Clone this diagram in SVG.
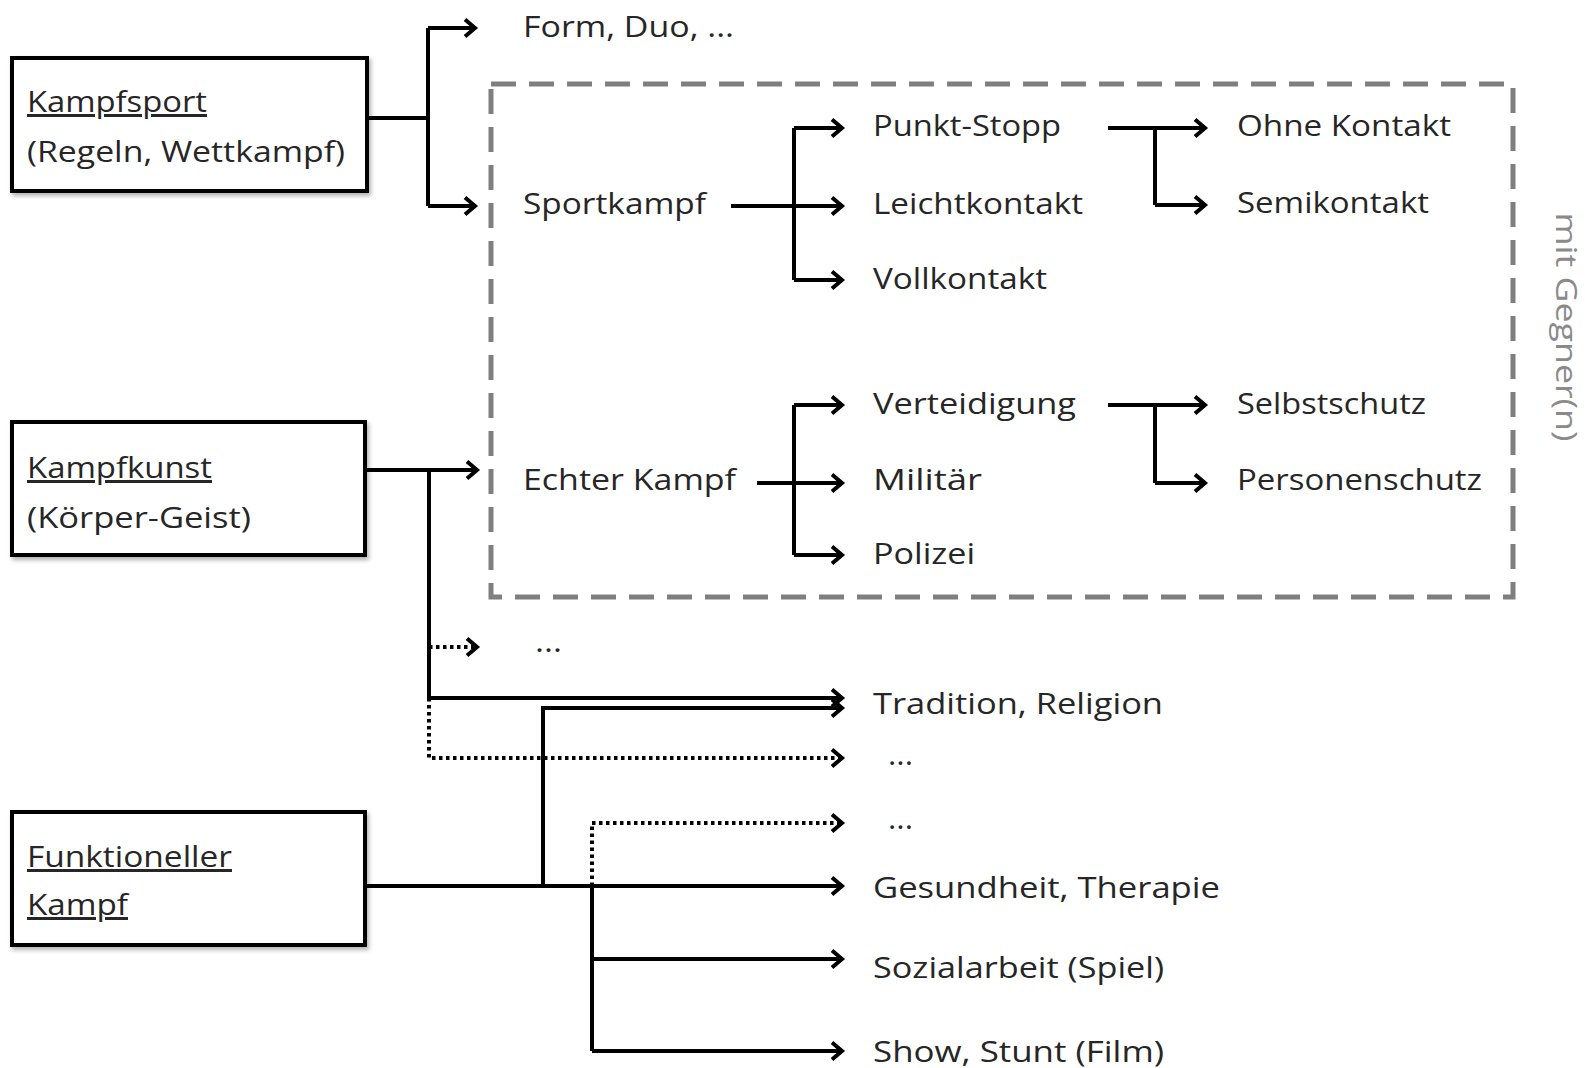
<svg xmlns="http://www.w3.org/2000/svg" width="1587" height="1068" viewBox="0 0 1587 1068">
<style>
.box{fill:#fff;stroke:#000;stroke-width:4;filter:url(#sh)}
.t{font-family:"Open Sans","Noto Sans","Liberation Sans",sans-serif;font-size:30px;fill:#262626}
.u{text-decoration:underline}
.c{fill:none;stroke:#000;stroke-width:4}
.a{marker-end:url(#arr)}
.d{stroke-dasharray:3.5 3.5}
.g{fill:none;stroke:#7f7f7f;stroke-width:5;stroke-dasharray:25 13}
</style>
<defs>
<filter id="sh" x="-5%" y="-5%" width="115%" height="120%">
<feDropShadow dx="2" dy="3" stdDeviation="2" flood-color="#000" flood-opacity="0.3"/>
</filter>
<marker id="arr" markerUnits="userSpaceOnUse" markerWidth="18" markerHeight="24" viewBox="0 0 18 24" refX="15" refY="12" orient="auto" overflow="visible">
<path d="M4,3.5 L14,12 L4,20.5" fill="none" stroke="#000" stroke-width="4"/>
</marker>
</defs>
<rect width="1587" height="1068" fill="#fff"/>

<rect id="frame" class="g" x="491" y="84" width="1022" height="513"/>
<text id="mitgegner" class="t" x="327" y="-1556" transform="rotate(90)" text-anchor="middle" style="fill:#8a8a8a" textLength="229" lengthAdjust="spacingAndGlyphs">mit Gegner(n)</text>

<g id="kampfsport">
<rect class="box" x="12" y="58" width="355" height="133"/>
<text class="t u" x="27" y="112" textLength="180" lengthAdjust="spacingAndGlyphs">Kampfsport</text>
<text class="t" x="27" y="162" textLength="318" lengthAdjust="spacingAndGlyphs">(Regeln, Wettkampf)</text>
</g>
<g id="kampfkunst">
<rect class="box" x="12" y="422" width="353" height="133"/>
<text class="t u" x="27" y="478" textLength="185" lengthAdjust="spacingAndGlyphs">Kampfkunst</text>
<text class="t" x="27" y="528" textLength="224" lengthAdjust="spacingAndGlyphs">(Körper-Geist)</text>
</g>
<g id="funktioneller">
<rect class="box" x="12" y="812" width="353" height="133"/>
<text class="t u" x="27" y="867" textLength="205" lengthAdjust="spacingAndGlyphs">Funktioneller</text>
<text class="t u" x="27" y="915" textLength="101" lengthAdjust="spacingAndGlyphs">Kampf</text>
</g>

<g id="form"><text class="t" x="523" y="37" textLength="211" lengthAdjust="spacingAndGlyphs">Form, Duo, ...</text></g>
<g id="sportkampf"><text class="t" x="523" y="214" textLength="183" lengthAdjust="spacingAndGlyphs">Sportkampf</text></g>
<g id="punktstopp"><text class="t" x="873" y="136" textLength="188" lengthAdjust="spacingAndGlyphs">Punkt-Stopp</text></g>
<g id="leichtkontakt"><text class="t" x="873" y="214" textLength="210" lengthAdjust="spacingAndGlyphs">Leichtkontakt</text></g>
<g id="vollkontakt"><text class="t" x="873" y="289" textLength="174" lengthAdjust="spacingAndGlyphs">Vollkontakt</text></g>
<g id="ohnekontakt"><text class="t" x="1237" y="136" textLength="214" lengthAdjust="spacingAndGlyphs">Ohne Kontakt</text></g>
<g id="semikontakt"><text class="t" x="1237" y="213" textLength="192" lengthAdjust="spacingAndGlyphs">Semikontakt</text></g>
<g id="echterkampf"><text class="t" x="523" y="490" textLength="213" lengthAdjust="spacingAndGlyphs">Echter Kampf</text></g>
<g id="verteidigung"><text class="t" x="873" y="414" textLength="203" lengthAdjust="spacingAndGlyphs">Verteidigung</text></g>
<g id="militaer"><text class="t" x="873" y="490" textLength="109" lengthAdjust="spacingAndGlyphs">Militär</text></g>
<g id="polizei"><text class="t" x="873" y="564" textLength="102" lengthAdjust="spacingAndGlyphs">Polizei</text></g>
<g id="selbstschutz"><text class="t" x="1237" y="414" textLength="189" lengthAdjust="spacingAndGlyphs">Selbstschutz</text></g>
<g id="personenschutz"><text class="t" x="1237" y="490" textLength="245" lengthAdjust="spacingAndGlyphs">Personenschutz</text></g>
<g id="etc1"><text class="t" x="535" y="652" textLength="27" lengthAdjust="spacingAndGlyphs">...</text></g>
<g id="tradition"><text class="t" x="873" y="714" textLength="290" lengthAdjust="spacingAndGlyphs">Tradition, Religion</text></g>
<g id="etc2"><text class="t" x="888" y="765" textLength="25" lengthAdjust="spacingAndGlyphs">...</text></g>
<g id="etc3"><text class="t" x="888" y="829" textLength="25" lengthAdjust="spacingAndGlyphs">...</text></g>
<g id="gesundheit"><text class="t" x="873" y="898" textLength="347" lengthAdjust="spacingAndGlyphs">Gesundheit, Therapie</text></g>
<g id="sozialarbeit"><text class="t" x="873" y="978" textLength="291" lengthAdjust="spacingAndGlyphs">Sozialarbeit (Spiel)</text></g>
<g id="show"><text class="t" x="873" y="1062" textLength="291" lengthAdjust="spacingAndGlyphs">Show, Stunt (Film)</text></g>

<g id="connectors">
<path class="c" d="M367,118 H428 M428,28 V206"/>
<path class="c a" d="M428,28 H476"/>
<path class="c a" d="M428,206 H476"/>

<path class="c" d="M794,128 V280"/>
<path class="c a" d="M731,206 H843"/>
<path class="c a" d="M794,128 H843"/>
<path class="c a" d="M794,280 H843"/>

<path class="c" d="M1155,128 V205"/>
<path class="c a" d="M1108,128 H1206"/>
<path class="c a" d="M1155,205 H1206"/>

<path class="c" d="M794,405 V555"/>
<path class="c a" d="M757,483 H843"/>
<path class="c a" d="M794,405 H843"/>
<path class="c a" d="M794,555 H843"/>

<path class="c" d="M1155,405 V483"/>
<path class="c a" d="M1108,405 H1206"/>
<path class="c a" d="M1155,483 H1206"/>

<path class="c a" d="M365,470 H478"/>
<path class="c" d="M429,470 V698"/>
<path class="c d a" d="M429,647 H478"/>
<path class="c a" d="M429,698 H843"/>
<path class="c d a" d="M429,698 V758 H843"/>

<path class="c a" d="M365,886 H843"/>
<path class="c a" d="M543,886 V708 H843"/>
<path class="c d a" d="M592,886 V823 H843"/>
<path class="c" d="M592,886 V1051"/>
<path class="c a" d="M592,959 H843"/>
<path class="c a" d="M592,1051 H843"/>
</g>
</svg>
